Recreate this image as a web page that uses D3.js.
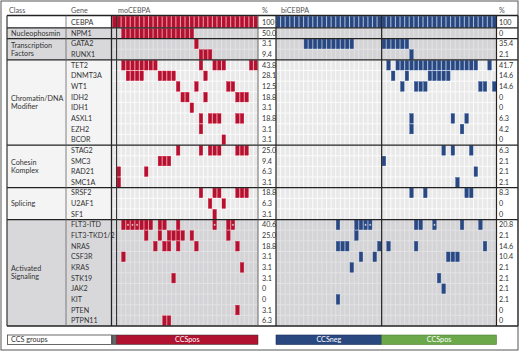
<!DOCTYPE html>
<html><head><meta charset="utf-8">
<script src="https://cdn.jsdelivr.net/npm/d3@7"></script>
<style>body{margin:0;background:#fff} svg{display:block} text{font-family:Lato,"Liberation Sans",sans-serif}</style>
</head><body><svg id="c" width="520" height="352"></svg>
<script>
const genes = ["CEBPA","NPM1","GATA2","RUNX1","TET2","DNMT3A","WT1","IDH2","IDH1","ASXL1","EZH2","BCOR","STAG2","SMC3","RAD21","SMC1A","SRSF2","U2AF1","SF1","FLT3-ITD","FLT3-TKD1/2","NRAS","CSF3R","KRAS","STK19","JAK2","KIT","PTEN","PTPN11"];
const classNames = [[""],["Nucleophosmin"],["Transcription","Factors"],["Chromatin/DNA","Modifier"],["Cohesin","Komplex"],["Splicing"],["Activated","Signaling"]];
const classSizes = [1,1,2,8,4,3,10];
const classShaded = [false,true,true,false,false,false,true];
const moPct = ["100","50.0","3.1","9.4","43.8","28.1","12.5","18.8","3.1","18.8","3.1","3.1","25.0","9.4","6.3","3.1","18.8","6.3","3.1","40.6","25.0","18.8","3.1","3.1","3.1","0","0","3.1","6.3"];
const biPct = ["100","0","35.4","2.1","41.7","14.6","14.6","0","0","6.3","4.2","0","6.3","2.1","2.1","2.1","8.3","0","0","20.8","2.1","14.6","10.4","2.1","2.1","2.1","2.1","0","0"];
// patient groups (CCS)
const moGroups = ["na","pos","pos","pos","pos","pos","pos","pos","pos","pos","pos","pos","pos","pos","pos","pos","pos","pos","pos","pos","pos","pos","pos","pos","pos","pos","pos","pos","pos","pos","pos","pos"];
const biGroups = ["neg","neg","neg","neg","neg","neg","neg","neg","neg","neg","neg","neg","neg","neg","neg","neg","neg","neg","neg","neg","neg","neg","neg","pos","pos","pos","pos","pos","pos","pos","pos","pos","pos","pos","pos","pos","pos","pos","pos","pos","pos","pos","pos","pos","pos","pos","pos","pos"];
// mutated patient columns per gene (same order as genes)
const moMut = [
 [0,1,2,3,4,5,6,7,8,9,10,11,12,13,14,15,16,17,18,19,20,21,22,23,24,25,26,27,28,29,30,31],
 [2,3,4,5,6,7,8,9,10,11,12,13,14,15,16,17],
 [18],[19,20,21],
 [2,3,4,5,6,7,8,9,19,22,23,24,30,31],
 [3,4,5,6,10,11,12,13,20],
 [14,18,25,26],
 [15,16,20,27,28,29],
 [17],
 [19,21,22,23,27,28],
 [19],[24],
 [14,19,21,22,23,27,28,29],
 [10,11,12],[1,7],[1],
 [19,22,23,27,28,29],[21,24],[22],
 [2,3,4,5,6,7,8,10,11,14,22,25,26],
 [7,10,12,13,14,15,17,25],
 [9,11,12,14,18,27],
 [2],[28],[13],[],[],[27],[11,12]
];
const biMut = [
 [0,1,2,3,4,5,6,7,8,9,10,11,12,13,14,15,16,17,18,19,20,21,22,23,24,25,26,27,28,29,30,31,32,33,34,35,36,37,38,39,40,41,42,43,44,45,46,47],
 [],
 [6,7,8,9,10,11,12,13,14,15,16,23,24,25,26,27,28],
 [29],
 [24,26,27,28,29,30,31,32,33,34,35,36,37,38,39,40,41,42,43,46],
 [25,28,33,34,35,36,37],
 [27,30,31,32,44,45,47],
 [],[],
 [29,38,41],[29,40],[],
 [36,38,42],[23],[43],[39],
 [29,32,41,42],[],[],
 [13,17,18,19,20,30,31,34,40,44],
 [17],
 [13,14,15,22,24,30,45],
 [18,21,37,38,39],
 [16],[35],[36],[13],[],[]
];
const moPlus = [3,4,5,22,26];   // FLT3-ITD marked cells
const biPlus = [19,20,34];

const RED="#b0122f", BLUE="#2a4880", GREEN="#6aa84a";
const svg = d3.select("#c");
svg.append("rect").attr("x",1).attr("y",1).attr("width",517).attr("height",349).attr("fill","#fff").attr("stroke","#555").attr("stroke-width",1);

const xMo = d3.scaleBand().domain(d3.range(moGroups.length)).range([112,258]);
const xBi = d3.scaleBand().domain(d3.range(biGroups.length)).range([276,496.5]);
const y = d3.scaleBand().domain(genes).range([17.3,326]);
const bw = y.bandwidth();
const TOP = 15.5, BOT = 326, LEFT = 7, RIGHT = 518;

let starts=[], acc=0; classSizes.forEach(s=>{starts.push(acc); acc+=s;});
const gTop = gi => gi===0 ? TOP : y(genes[starts[gi]]);
const gBot = gi => gi===classSizes.length-1 ? BOT : y(genes[starts[gi+1]]);
const groupOf = r => { let g=0; starts.forEach((s,i)=>{ if(r>=s) g=i; }); return g; };

// header
const hdr = svg.append("g").attr("fill","#555").attr("font-size",7.2);
[["Class",9],["Gene",71],["moCEBPA",118],["%",262],["biCEBPA",281],["%",499]].forEach(([t,x])=>{
  hdr.append("text").attr("x",x).attr("y",12.5).text(t);
});

// group backgrounds
classSizes.forEach((s,gi)=>{
  const t=gTop(gi), b=gBot(gi), sh=classShaded[gi];
  const lab = gi===0 ? "#ffffff" : (sh ? "#d8d8db" : "#f4f4f4");
  svg.append("rect").attr("x",LEFT).attr("y",t).attr("width",111.5-LEFT).attr("height",b-t).attr("fill",lab);
  const gap = sh ? "#e2e2e4" : "#fbfbfb";
  svg.append("rect").attr("x",xMo.range()[0]).attr("y",t).attr("width",xMo.range()[1]-xMo.range()[0]).attr("height",b-t).attr("fill",gap);
  svg.append("rect").attr("x",xBi.range()[0]).attr("y",t).attr("width",xBi.range()[1]-xBi.range()[0]).attr("height",b-t).attr("fill",gap);
});

// cells
const cw = xMo.bandwidth();
genes.forEach((g,r)=>{
  const sh = classShaded[groupOf(r)];
  const cell = sh ? "#d4d4d7" : "#e9e9e9";
  const yt = r===0 ? 16.2 : y(g)+0.5;
  const hh = r===0 ? (y(g)+bw-0.5-16.2) : bw-1;
  [[xMo,moGroups,moMut[r],RED],[xBi,biGroups,biMut[r],BLUE]].forEach(([xs,grp,muts,col])=>{
    svg.append("g").selectAll("rect").data(grp.map((d,i)=>i)).join("rect")
      .attr("x",i=>xs(i)+0.5).attr("y",yt).attr("width",xs.bandwidth()-1).attr("height",hh)
      .attr("fill",i=>muts.includes(i)?col:cell)
      .attr("stroke",i=>muts.includes(i)?d3.color(col).brighter(0.6):"none").attr("stroke-width",0.4);
  });
});
// FLT3-ITD marks
const ri = genes.indexOf("FLT3-ITD");
[[xMo,moPlus],[xBi,biPlus]].forEach(([xs,arr])=>{
  arr.forEach(i=>{
    const cx = xs(i)+xs.bandwidth()/2, cy = y(genes[ri])+bw/2;
    svg.append("path").attr("d",`M${cx-1},${cy}H${cx+1}M${cx},${cy-1}V${cy+1}`).attr("stroke","#fff").attr("stroke-width",0.6);
  });
});

// labels
const tg = svg.append("g").attr("font-size",7.2).attr("fill","#333");
genes.forEach((g,r)=>{
  const cy = r===0 ? 22 : y(g)+bw/2;
  tg.append("text").attr("x",71).attr("y",cy).attr("dy","0.35em").text(g);
  tg.append("text").attr("x",262).attr("y",cy).attr("dy","0.35em").text(moPct[r]);
  tg.append("text").attr("x",499).attr("y",cy).attr("dy","0.35em").text(biPct[r]);
});
classNames.forEach((lines,gi)=>{
  const mid=(gTop(gi)+gBot(gi))/2;
  lines.forEach((l,k)=>{
    tg.append("text").attr("x",11).attr("y",mid+(k-(lines.length-1)/2)*8.4).attr("dy","0.35em").text(l);
  });
});

// lines
const ln = svg.append("g").attr("stroke","#222");
classSizes.forEach((s,gi)=>{
  ln.append("line").attr("x1",LEFT).attr("x2",RIGHT).attr("y1",gTop(gi)).attr("y2",gTop(gi)).attr("stroke-width",1.3);
});
ln.append("line").attr("x1",LEFT).attr("x2",RIGHT).attr("y1",BOT).attr("y2",BOT).attr("stroke-width",1.3);
[[LEFT,1.2,"#333"],[66,0.8,"#666"],[111.5,1.3,"#222"],[xMo(1),1.1,"#333"],[258,0.9,"#555"],[276,1.2,"#222"],[xBi(23),1.2,"#222"],[496.5,1.2,"#222"],[RIGHT,1.2,"#333"]].forEach(([x,w,c])=>{
  ln.append("line").attr("x1",x).attr("x2",x).attr("y1",TOP).attr("y2",BOT).attr("stroke-width",w).attr("stroke",c);
});

// CCS groups bar
const by=335, bh=9.5;
svg.append("rect").attr("x",7.5).attr("y",by).attr("width",104).attr("height",bh).attr("fill","#fff").attr("stroke","#444").attr("stroke-width",0.8);
svg.append("text").attr("x",11).attr("y",by+bh/2).attr("dy","0.35em").attr("font-size",7.2).attr("fill","#333").text("CCS groups");
const colorOf = {na:"#666", pos:RED};
function segs(grp){ const out=[]; grp.forEach((g,i)=>{ if(out.length && out[out.length-1].g===g) out[out.length-1].e=i; else out.push({g,s:i,e:i}); }); return out; }
segs(moGroups).forEach(sg=>{
  const x0=xMo(sg.s), x1=xMo(sg.e)+xMo.bandwidth();
  svg.append("rect").attr("x",x0).attr("y",by).attr("width",x1-x0).attr("height",bh).attr("fill",colorOf[sg.g]).attr("stroke","#333").attr("stroke-width",0.5);
  if(sg.g==="pos") svg.append("text").attr("x",(x0+x1)/2).attr("y",by+bh/2).attr("dy","0.35em").attr("text-anchor","middle").attr("font-size",7.2).attr("fill","#fff").text("CCSpos");
});
segs(biGroups).forEach(sg=>{
  const x0=xBi(sg.s), x1=xBi(sg.e)+xBi.bandwidth();
  svg.append("rect").attr("x",x0).attr("y",by).attr("width",x1-x0).attr("height",bh).attr("fill",sg.g==="neg"?BLUE:GREEN).attr("stroke",sg.g==="neg"?"#1a2d55":"#4d7d34").attr("stroke-width",0.6);
  svg.append("text").attr("x",(x0+x1)/2).attr("y",by+bh/2).attr("dy","0.35em").attr("text-anchor","middle").attr("font-size",7.2).attr("fill","#fff").text(sg.g==="neg"?"CCSneg":"CCSpos");
});
</script></body></html>
